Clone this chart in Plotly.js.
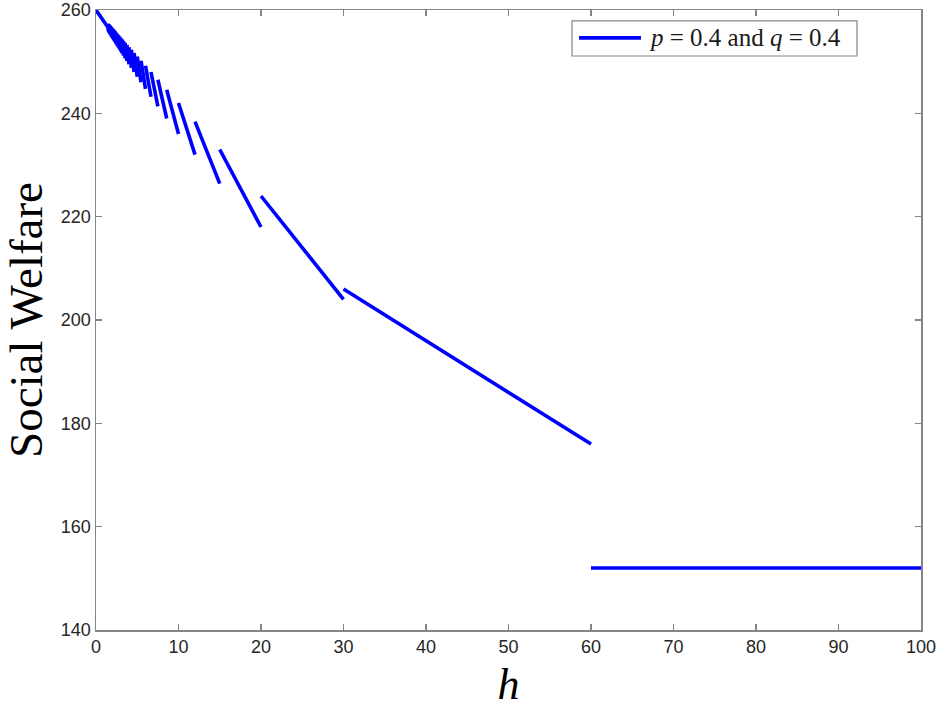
<!DOCTYPE html>
<html>
<head>
<meta charset="utf-8">
<script src="https://cdn.plot.ly/plotly-3.0.1.min.js"></script>
<style>html,body{margin:0;padding:0;background:#fff;}</style>
</head>
<body>
<div id="chart" style="width:941px;height:709px;"></div>
<script>
// Break points of h (descending); segment i spans breaksH[i+1] .. breaksH[i]
const breaksH = [100, 60, 30, 20, 15, 12, 10, 8.571, 7.5, 6.667, 6, 5.455, 5, 4.615, 4.286, 4,
  3.75, 3.529, 3.333, 3.158, 3, 2.857, 2.727, 2.609, 2.5, 2.4, 2.308, 2.222, 2.143, 2.069, 2,
  1.935, 1.875, 1.818, 1.765, 1.714, 1.667, 1.622, 1.579, 1.538, 1.5, 1.463, 0];
// Social welfare at the left (small h) end of each segment
const leftW = [152, 206, 224, 233, 238.4, 242, 244.57, 246.5, 248, 249.2, 250.18, 251, 251.69,
  252.29, 252.8, 253.25, 253.65, 254, 254.32, 254.6, 254.86, 255.09, 255.3, 255.5, 255.68,
  255.85, 256, 256.14, 256.28, 256.4, 256.52, 256.63, 256.73, 256.82, 256.91, 257, 257.08,
  257.16, 257.23, 257.3, 257.37, 260];
// Social welfare at the right (large h) end of each segment
const rightW = [152, 176, 204, 218, 226.4, 232, 236, 239, 241.33, 243.2, 244.73, 246, 247.08,
  248, 248.8, 249.5, 250.12, 250.67, 251.16, 251.6, 252, 252.36, 252.7, 253, 253.28, 253.54,
  253.78, 254, 254.21, 254.4, 254.58, 254.75, 254.91, 255.06, 255.2, 255.33, 255.46, 255.58,
  255.69, 255.8, 255.9, 256.6];
const xTicks = [0, 10, 20, 30, 40, 50, 60, 70, 80, 90, 100];
const yTicks = [140, 160, 180, 200, 220, 240, 260];
const seriesName = '<i>p</i> = 0.4 and <i>q</i> = 0.4';

const xs = [], ys = [];
for (let i = 0; i < leftW.length; i++) {
  xs.push(breaksH[i + 1], breaksH[i], null);
  ys.push(leftW[i], rightW[i], null);
}

const axisColor = '#858585';
const lineColor = '#0000ff';
const lineWidth = 3.6;
const serif = 'Liberation Serif, Times New Roman, serif';
const tickFont = {family: 'Liberation Sans, Arial, sans-serif', size: 18, color: '#262626'};

const trace = {
  x: xs, y: ys, type: 'scatter', mode: 'lines', name: seriesName,
  connectgaps: false, showlegend: false,
  line: {color: lineColor, width: lineWidth}
};

const layout = {
  width: 941, height: 709,
  margin: {l: 96, r: 20, t: 10, b: 79, pad: 0},
  paper_bgcolor: '#ffffff', plot_bgcolor: '#ffffff',
  showlegend: false,
  shapes: [
    {type: 'rect', xref: 'paper', yref: 'paper', x0: 0.577, x1: 0.9224, y0: 0.9258, y1: 0.9823,
     line: {color: axisColor, width: 1.2}, fillcolor: '#ffffff', layer: 'above'},
    {type: 'line', xref: 'paper', yref: 'paper', x0: 0.5855, x1: 0.6606, y0: 0.955, y1: 0.955,
     line: {color: lineColor, width: lineWidth}, layer: 'above'}
  ],
  annotations: [
    {text: seriesName, xref: 'paper', yref: 'paper', x: 0.6679, y: 0.955,
     xanchor: 'left', yanchor: 'middle', showarrow: false,
     font: {family: serif, size: 25, color: '#1a1a1a'}}
  ],
  xaxis: {
    range: [0, 100], autorange: false, tickvals: xTicks, ticktext: xTicks.map(String),
    ticks: 'inside', ticklen: 6, tickwidth: 1.2, tickcolor: axisColor,
    showline: true, linecolor: axisColor, linewidth: 1.5, mirror: 'ticks',
    showgrid: false, zeroline: false, tickfont: tickFont,
    title: {text: '<i>h</i>', font: {family: serif, size: 44, color: '#000000'}, standoff: 22}
  },
  yaxis: {
    range: [140, 260], autorange: false, tickvals: yTicks, ticktext: yTicks.map(String),
    ticks: 'inside', ticklen: 6, tickwidth: 1.2, tickcolor: axisColor,
    showline: true, linecolor: axisColor, linewidth: 1.5, mirror: 'ticks',
    showgrid: false, zeroline: false, tickfont: tickFont,
    title: {text: 'Social Welfare', font: {family: serif, size: 47, color: '#000000'}, standoff: 16}
  }
};

Plotly.newPlot('chart', [trace], layout, {displayModeBar: false, staticPlot: true});
</script>
</body>
</html>
